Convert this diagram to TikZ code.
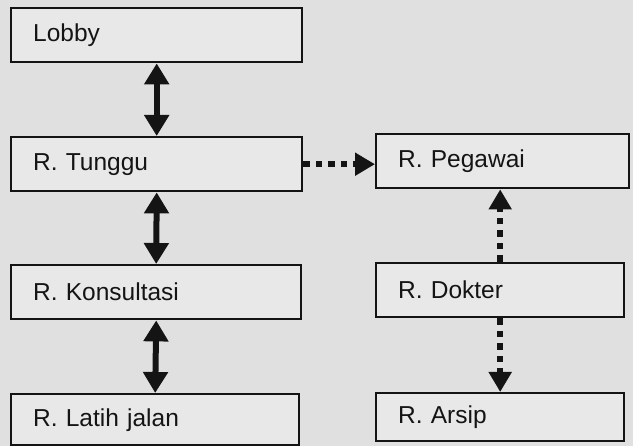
\documentclass[tikz,border=0pt]{standalone}
\usepackage{fontspec}
\setmainfont{Liberation Sans}
\usetikzlibrary{arrows.meta}
\definecolor{bgcol}{RGB}{224,224,224}
\definecolor{boxfill}{RGB}{232,232,232}
\definecolor{ink}{RGB}{20,20,20}
\begin{document}
\begin{tikzpicture}[x=1pt,y=-1pt,
  room/.style={draw=ink, line width=2.4pt, fill=boxfill, anchor=north west,
    minimum height=#1, inner xsep=22pt, inner ysep=0pt, align=left,
    font=\fontsize{24.5}{28}\selectfont, text=ink},
  room/.default=54pt,
  twoway/.style={draw=ink, line width=6pt,
    {Triangle[width=24pt,length=21pt]}-{Triangle[width=24pt,length=21pt]}},
  oneway/.style={draw=ink, line width=6.5pt, dash pattern=on 6.5pt off 6pt,
    -{Triangle[width=22pt,length=20pt]}}
]
  % backdrop
  \fill[bgcol] (0,0) rectangle (633,446);
  \useasboundingbox (0,0) rectangle (633,446);

  % left column
  \node[room, text width=247pt] (lobby)   at (10,7)   {Lobby};
  \node[room, text width=247pt] (tunggu)  at (10,136) {R. Tunggu};
  \node[room, text width=246pt] (konsul)  at (10,264) {R. Konsultasi};
  \node[room=51pt, text width=244pt] (latih) at (10,393) {R. Latih jalan};

  % right column
  \node[room, text width=209pt] (pegawai) at (375,133) {R. Pegawai};
  \node[room, text width=204pt] (dokter)  at (375,262) {R. Dokter};
  \node[room=48pt, text width=204pt] (arsip) at (375,392) {R. Arsip};

  % two-way links
  \draw[twoway] (lobby.south)  -- (tunggu.north);
  \draw[twoway] (tunggu.south) -- (konsul.north);
  \draw[twoway] (konsul.south) -- (latih.north);

  % one-way links
  \draw[oneway] (tunggu.east) -- (tunggu.east -| pegawai.west);
  \draw[oneway] (dokter.north) -- (dokter.north |- pegawai.south);
  \draw[oneway] (dokter.south) -- (arsip.north);
\end{tikzpicture}
\end{document}
